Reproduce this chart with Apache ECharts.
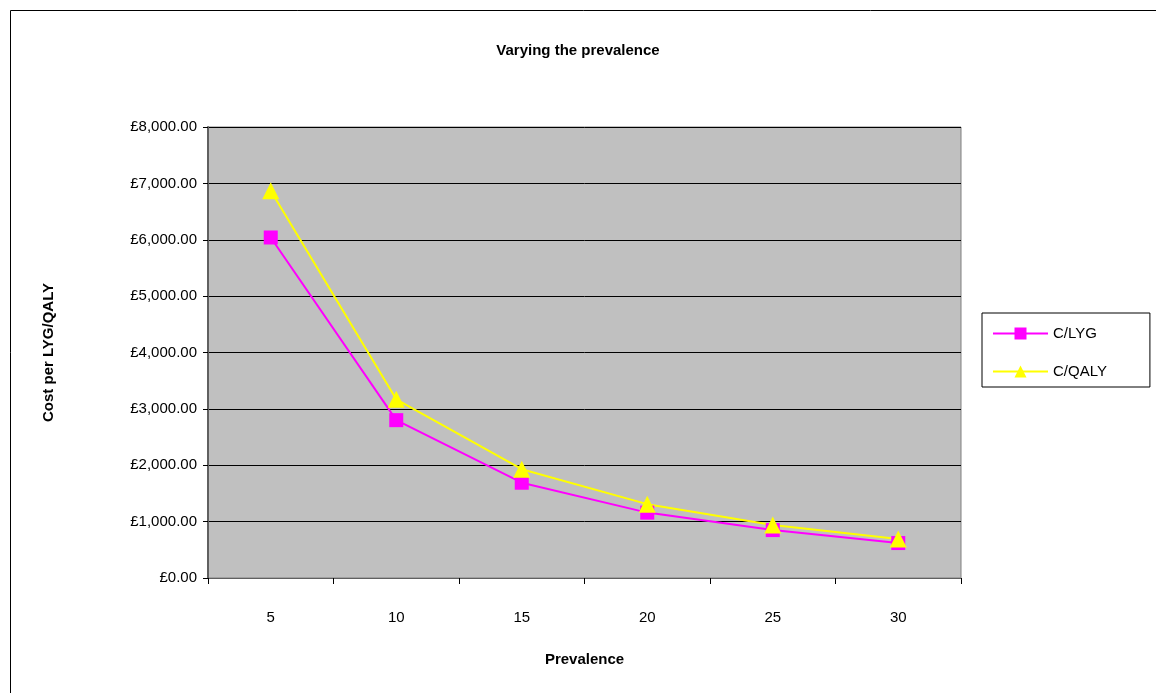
<!DOCTYPE html>
<html>
<head>
<meta charset="utf-8">
<title>Varying the prevalence</title>
<script src="https://cdn.jsdelivr.net/npm/echarts@6/dist/echarts.min.js"></script>
<style>
	html, body { margin: 0; padding: 0; background: #fff; }
	#chart { width: 1156px; height: 693px; }
</style>
</head>
<body>
<div id="chart"></div>
<script>
	// values
	var prevalence = ['5', '10', '15', '20', '25', '30'];
	var costLYG = [6040, 2800, 1690, 1160, 850, 620];
	var costQALY = [6870, 3170, 1930, 1310, 940, 690];
	var yTicks = { min: 0, max: 8000, interval: 1000 };

	var font = '"Liberation Sans", Arial, sans-serif';

	function pounds(v) {
		var s = Math.round(v).toString().replace(/\B(?=(\d{3})+(?!\d))/g, ',');
		return '£' + s + '.00';
	}

	var chart = echarts.init(document.getElementById('chart'));

	var option = {
		backgroundColor: '#fff',
		animation: false,
		textStyle: { fontFamily: font },
		graphic: [
			{
				type: 'rect',
				shape: { x: 10.5, y: 10.5, width: 1160, height: 700 },
				style: { fill: 'none', stroke: '#000', lineWidth: 1 },
				silent: true
			}
		],
		title: {
			text: 'Varying the prevalence',
			left: 'center',
			top: 38,
			textStyle: { fontFamily: font, fontSize: 15, fontWeight: 'bold', color: '#000' }
		},
		legend: {
			orient: 'vertical',
			left: 982,
			top: 313,
			padding: [13, 43, 8, 10],
			itemGap: 23,
			itemWidth: 55,
			itemHeight: 15,
			backgroundColor: '#fff',
			borderColor: '#000',
			borderWidth: 1,
			textStyle: { fontFamily: font, fontSize: 15, color: '#000' },
			data: ['C/LYG', 'C/QALY']
		},
		grid: {
			left: 208,
			right: 195,
			top: 127,
			bottom: 115,
			show: true,
			backgroundColor: '#C0C0C0',
			borderColor: '#808080',
			borderWidth: 1
		},
		xAxis: {
			type: 'category',
			data: prevalence,
			boundaryGap: true,
			name: 'Prevalence',
			nameLocation: 'middle',
			nameGap: 74,
			nameTextStyle: { fontFamily: font, fontSize: 15, fontWeight: 'bold', color: '#000' },
			axisLine: { lineStyle: { color: '#606060', width: 1 } },
			axisTick: { show: true, length: 6, lineStyle: { color: '#000' } },
			axisLabel: { margin: 32, fontFamily: font, fontSize: 15, color: '#000' },
			splitLine: { show: false }
		},
		yAxis: {
			type: 'value',
			min: yTicks.min,
			max: yTicks.max,
			interval: yTicks.interval,
			name: 'Cost per LYG/QALY',
			nameLocation: 'middle',
			nameGap: 152,
			nameTextStyle: { fontFamily: font, fontSize: 15, fontWeight: 'bold', color: '#000' },
			axisLine: { show: true, lineStyle: { color: '#606060', width: 2 } },
			axisTick: { show: true, length: 5, lineStyle: { color: '#000' } },
			axisLabel: {
				margin: 11,
				fontFamily: font,
				fontSize: 15,
				color: '#000',
				formatter: pounds
			},
			splitLine: { show: true, lineStyle: { color: '#000', width: 1 } }
		},
		series: [
			{
				name: 'C/LYG',
				type: 'line',
				data: costLYG,
				symbol: 'rect',
				symbolSize: 14,
				showAllSymbol: true,
				lineStyle: { color: '#FF00FF', width: 2 },
				itemStyle: { color: '#FF00FF', borderWidth: 0 }
			},
			{
				name: 'C/QALY',
				type: 'line',
				data: costQALY,
				symbol: 'triangle',
				symbolSize: 17,
				showAllSymbol: true,
				lineStyle: { color: '#FFFF00', width: 2 },
				itemStyle: { color: '#FFFF00', borderWidth: 0 }
			}
		]
	};

	chart.setOption(option);
</script>
</body>
</html>
